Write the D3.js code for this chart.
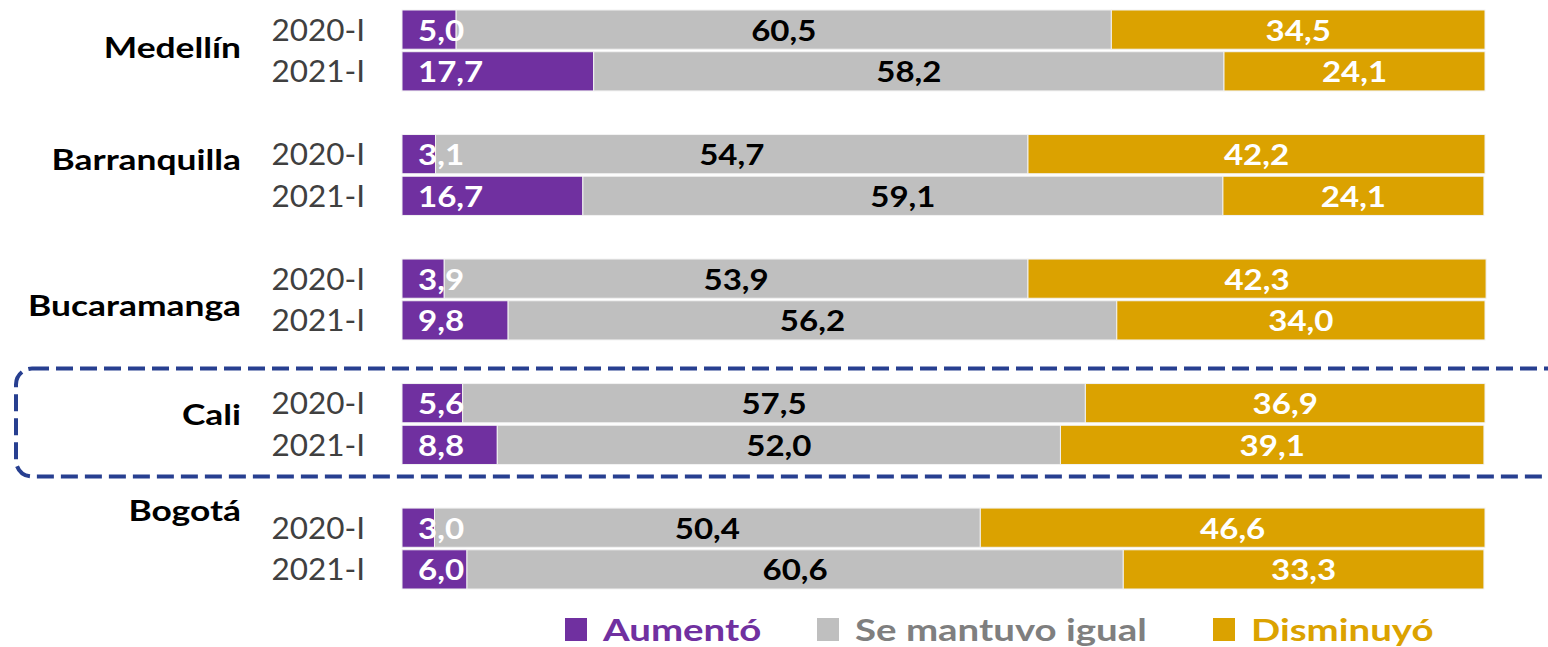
<!DOCTYPE html>
<html>
<head>
<meta charset="utf-8">
<script src="https://cdn.jsdelivr.net/npm/d3@7"></script>
<style>
  body { margin: 0; background: #fff; }
  svg { display: block; font-family: Lato, "Open Sans", sans-serif; }
</style>
</head>
<body>
<script>
// data
var cities = ["Medellín", "Barranquilla", "Bucaramanga", "Cali", "Bogotá"];
var periods = ["2020-I", "2021-I"];
var series = ["Aumentó", "Se mantuvo igual", "Disminuyó"];
// values per city, [2020-I, 2021-I]
var aumento = [[5.0, 17.7], [3.1, 16.7], [3.9, 9.8], [5.6, 8.8], [3.0, 6.0]];
var igual = [[60.5, 58.2], [54.7, 59.1], [53.9, 56.2], [57.5, 52.0], [50.4, 60.6]];
var disminuyo = [[34.5, 24.1], [42.2, 24.1], [42.3, 34.0], [36.9, 39.1], [46.6, 33.3]];
var highlighted = "Cali";

var colors = ["#7030a0", "#bfbfbf", "#dba200"];
var labelColors = ["#fff", "#000", "#fff"];
var legendText = ["#7030a0", "#7f7f7f", "#dba200"];

var width = 1548, height = 647;

var svg = d3.select("body").append("svg").attr("width", width).attr("height", height);

// build rows
var rows = [];
cities.forEach(function(c, i) {
  periods.forEach(function(p, j) {
    var vals = [aumento[i][j], igual[i][j], disminuyo[i][j]];
    var x0 = 0;
    var segs = vals.map(function(v, k) {
      var s = {k: k, x0: x0, x1: x0 + v, v: v};
      x0 += v;
      return s;
    });
    rows.push({city: c, period: p, segs: segs});
  });
});

var x = d3.scaleLinear().domain([0, 100]).range([402, 1485]);
var yCity = d3.scaleBand().domain(cities).range([10, 589]).paddingInner(0.35).paddingOuter(0);
var yPer = d3.scaleBand().domain(periods).range([0, yCity.bandwidth()]).paddingInner(0.06);
var bh = yPer.bandwidth();

// highlight box round Cali
var hy = yCity(highlighted);
svg.append("rect")
  .attr("x", 16).attr("y", hy - 15)
  .attr("width", 1600).attr("height", yCity.bandwidth() + 27)
  .attr("rx", 16)
  .attr("fill", "none")
  .attr("stroke", "#273f90")
  .attr("stroke-width", 4)
  .attr("stroke-dasharray", "17,7");

var fmt = function(v) { return d3.format(".1f")(v).replace(".", ","); };
// the original text is a bit wider than Lato, so stretch it
function place(px, py, sx) { return "translate(" + px + "," + py + ") scale(" + sx + ",1)"; }

var rowG = svg.selectAll("g.row").data(rows).enter().append("g")
  .attr("class", "row")
  .attr("transform", function(d) { return "translate(0," + (yCity(d.city) + yPer(d.period)) + ")"; });

rowG.selectAll("rect").data(function(d) { return d.segs; }).enter().append("rect")
  .attr("x", function(d) { return x(d.x0); })
  .attr("width", function(d) { return x(d.x1) - x(d.x0); })
  .attr("height", bh)
  .attr("fill", function(d) { return colors[d.k]; })
  .attr("stroke", "#f2f2f2")
  .attr("stroke-width", 1);

rowG.selectAll("text.val").data(function(d) { return d.segs; }).enter().append("text")
  .attr("class", "val")
  .attr("transform", function(d) {
    var px = d.k === 0 ? x(d.x0) + 16 : (x(d.x0) + x(d.x1)) / 2;
    return place(px, bh / 2 + 11, 1.14);
  })
  .attr("text-anchor", function(d) { return d.k === 0 ? "start" : "middle"; })
  .attr("fill", function(d) { return labelColors[d.k]; })
  .style("font-size", "29px")
  .style("font-weight", "bold")
  .text(function(d) { return fmt(d.v); });

// period labels
rowG.append("text")
  .attr("transform", place(365, bh / 2 + 11, 1.05))
  .attr("text-anchor", "end")
  .attr("fill", "#404040")
  .style("font-size", "30px")
  .text(function(d) { return d.period; });

// city labels (offsets as in the original)
var cityDy = [48, 35, 57, 41, 13];
svg.selectAll("text.city").data(cities).enter().append("text")
  .attr("class", "city")
  .attr("transform", function(d, i) { return place(241, yCity(d) + cityDy[i], 1.22); })
  .attr("text-anchor", "end")
  .attr("fill", "#000")
  .style("font-size", "29px")
  .style("font-weight", "bold")
  .text(function(d) { return d; });

// legend
var legX = [565, 817, 1213];
var leg = svg.selectAll("g.leg").data(series).enter().append("g")
  .attr("class", "leg")
  .attr("transform", function(d, i) { return "translate(" + legX[i] + ",618)"; });
leg.append("rect").attr("width", 22).attr("height", 23)
  .attr("fill", function(d, i) { return colors[i]; });
leg.append("text")
  .attr("transform", place(38, 23, 1.24))
  .attr("fill", function(d, i) { return legendText[i]; })
  .style("font-size", "31px")
  .style("font-weight", "bold")
  .text(function(d) { return d; });
</script>
</body>
</html>
